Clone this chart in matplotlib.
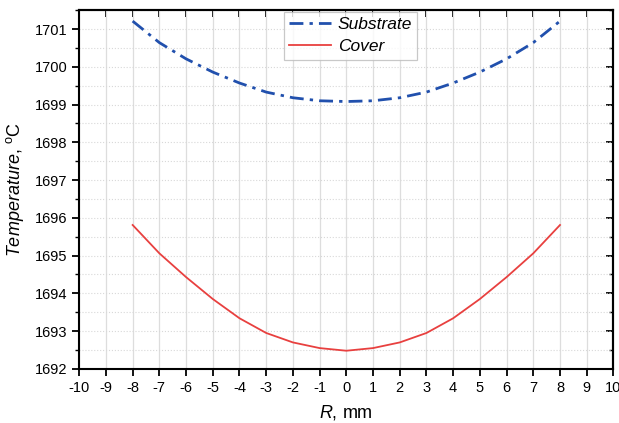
import numpy as np
import matplotlib
matplotlib.use("Agg")
import matplotlib.pyplot as plt
from matplotlib.ticker import MultipleLocator, NullFormatter

plt.rcParams["font.family"] = ["Liberation Sans", "DejaVu Sans"]
plt.rcParams["axes.unicode_minus"] = False
plt.rcParams["mathtext.fontset"] = "custom"
plt.rcParams["mathtext.rm"] = "Liberation Sans"
plt.rcParams["mathtext.it"] = "Liberation Sans:italic"

r_mm = [-8, -7, -6, -5, -4, -3, -2, -1, 0, 1, 2, 3, 4, 5, 6, 7, 8]
substrate = [1701.21, 1700.64, 1700.21, 1699.86, 1699.57, 1699.33, 1699.18, 1699.10, 1699.08,
             1699.10, 1699.18, 1699.33, 1699.57, 1699.86, 1700.21, 1700.64, 1701.21]
cover = [1695.81, 1695.06, 1694.43, 1693.85, 1693.34, 1692.95, 1692.70, 1692.55, 1692.48,
         1692.55, 1692.70, 1692.95, 1693.34, 1693.85, 1694.43, 1695.06, 1695.81]

fig = plt.figure(figsize=(6.19, 4.23), dpi=100)
ax = fig.add_axes([0.128, 0.128, 0.863, 0.848])

ax.plot(r_mm, substrate, color="#2150ad", lw=2.0, dashes=(5, 2.2, 1.2, 2.2), label="Substrate")
ax.plot(r_mm, cover, color="#e8403f", lw=1.3, label="Cover")

ax.set_xlim(-10, 10)
ax.set_ylim(1692, 1701.5)
ax.xaxis.set_major_locator(MultipleLocator(1))
ax.yaxis.set_major_locator(MultipleLocator(1))
ax.yaxis.set_minor_locator(MultipleLocator(0.5))

ax.grid(True, axis="x", which="major", color="#dddddd", lw=0.9, ls="-")
ax.grid(True, axis="y", which="both", color="#d8d8d8", lw=0.8, ls=":")
ax.set_axisbelow(True)

for s in ax.spines.values():
    s.set_linewidth(1.5)
ax.tick_params(axis="both", which="major", labelsize=10.5, width=1.3, length=5, direction="out")
ax.tick_params(axis="y", which="minor", width=1.0, length=3, direction="out")

# inward ticks on the top and right edges
top = ax.secondary_xaxis("top")
top.xaxis.set_major_locator(MultipleLocator(1))
top.xaxis.set_major_formatter(NullFormatter())
top.tick_params(direction="in", width=1.3, length=5)
right = ax.secondary_yaxis("right")
right.yaxis.set_major_locator(MultipleLocator(1))
right.yaxis.set_minor_locator(MultipleLocator(0.5))
right.yaxis.set_major_formatter(NullFormatter())
right.tick_params(which="major", direction="in", width=1.3, length=5)
right.tick_params(which="minor", direction="in", width=1.0, length=3)
for s in list(top.spines.values()) + list(right.spines.values()):
    s.set_linewidth(1.5)

ax.set_xlabel(r"$\it{R}$, mm", fontsize=13, labelpad=6)
ax.set_ylabel(r"$\it{Temperature}$, $^{\rm o}$C", fontsize=13, labelpad=6)

leg = ax.legend(loc="upper center", bbox_to_anchor=(0.508, 1.0),
                prop={"style": "italic", "size": 12.5}, frameon=True, fancybox=False,
                edgecolor="#bbbbbb", handlelength=2.4, handletextpad=0.4, borderpad=0.3,
                labelspacing=0.4, borderaxespad=0.1)
leg.get_frame().set_linewidth(0.9)

fig.savefig("out.png", dpi=100)
